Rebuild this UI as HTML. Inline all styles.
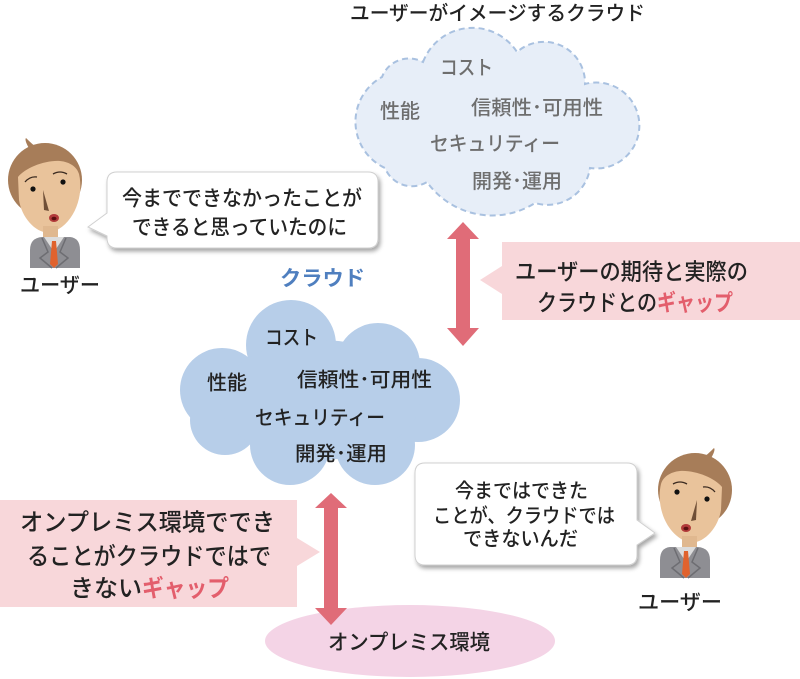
<!DOCTYPE html>
<html><head><meta charset="utf-8"><style>
html,body{margin:0;padding:0;background:#fff;}
svg{display:block;}
text{font-family:"Liberation Sans","Noto Sans CJK JP",sans-serif;font-weight:500;}
text.b{font-weight:bold;}
</style></head><body>
<svg width="800" height="679" viewBox="0 0 800 679" xmlns="http://www.w3.org/2000/svg">
<defs>
<filter id="sh" x="-10%" y="-10%" width="125%" height="135%">
<feDropShadow dx="2" dy="3" stdDeviation="2" flood-color="#000" flood-opacity="0.35"/>
</filter>
<g id="person">
  <ellipse cx="45" cy="180" rx="37" ry="37" fill="#a77d59"/>
  <path d="M30,150 Q24,140 26,138 Q32,144 36,147 Z" fill="#a77d59"/>
  <path d="M18,177 C25,168 45,160 60,161 C70,162 77,167 79,174 C84,195 75,222 55,231 C40,238 22,220 19,200 Z" fill="#e9c39b"/>
  <path d="M25,182 Q30,176 37,177" stroke="#3a2a20" stroke-width="1.3" fill="none"/>
  <path d="M53,174 Q60,170 67,174" stroke="#3a2a20" stroke-width="1.3" fill="none"/>
  <circle cx="33" cy="189" r="2.6" fill="#111"/>
  <circle cx="63" cy="182" r="2.6" fill="#111"/>
  <path d="M43,190 L49,211 L44,210 Z" fill="#6f4f37"/>
  <ellipse cx="54" cy="218" rx="5" ry="4" fill="#b23a3a"/>
  <ellipse cx="54" cy="218.5" rx="2.5" ry="1.8" fill="#5a1010"/>
  <rect x="43" y="226" width="15" height="14" fill="#e0b88f"/>
  <path d="M30,250 Q30,238 42,237 L70,237 Q80,238 80,250 L80,268 L30,268 Z" fill="#8e8e93"/>
  <path d="M44,237 L54,252 L64,237 Z" fill="#dcdcdc"/>
  <path d="M42,238 L48,252 L40,258 L52,268" stroke="#6d6d72" stroke-width="1.5" fill="none"/>
  <path d="M66,238 L60,252 L68,258 L56,268" stroke="#6d6d72" stroke-width="1.5" fill="none"/>
  <path d="M52,241 L56,241 L58,264 L54,268 L50,264 Z" fill="#e0622d"/>
</g>
</defs>

<!-- title -->
<text x="350" y="20" font-size="20" fill="#222" textLength="295" lengthAdjust="spacingAndGlyphs">ユーザーがイメージするクラウド</text>

<!-- top dashed cloud -->
<path d="M423,62 A53,53 0 0 1 517,52 A41,41 0 0 1 585,84 A43,43 0 1 1 590,168 A43,43 0 0 1 535,203 A80,80 0 0 1 427,182 A29,29 0 0 1 385,168 A51,51 0 0 1 382,77 A29,29 0 0 1 423,62 Z" fill="#e7eef8" stroke="#a9c1e0" stroke-width="2" stroke-dasharray="6 4"/>
<g font-size="20" fill="#6e6e6e">
<text x="440" y="74.5" textLength="53" lengthAdjust="spacingAndGlyphs">コスト</text>
<text x="380" y="118" textLength="40" lengthAdjust="spacingAndGlyphs">性能</text>
<text x="471" y="114.5" textLength="132" lengthAdjust="spacingAndGlyphs">信頼性･可用性</text>
<text x="430" y="150.5" textLength="130" lengthAdjust="spacingAndGlyphs">セキュリティー</text>
<text x="472" y="188" textLength="90" lengthAdjust="spacingAndGlyphs">開発･運用</text>
</g>

<!-- left person and bubble -->
<use href="#person"/>
<text x="20" y="292.5" font-size="21" fill="#222" textLength="80" lengthAdjust="spacingAndGlyphs">ユーザー</text>
<g filter="url(#sh)">
<path d="M117,172 L368,172 Q378,172 378,182 L378,238 Q378,248 368,248 L117,248 Q107,248 107,238 L107,236 L88,227 L107,213 L107,182 Q107,172 117,172 Z" fill="#fff" stroke="#d0d0d0" stroke-width="1"/>
</g>
<text x="122" y="205.5" font-size="21" fill="#222" textLength="240" lengthAdjust="spacingAndGlyphs">今までできなかったことが</text>
<text x="132" y="234.5" font-size="21" fill="#222" textLength="215" lengthAdjust="spacingAndGlyphs">できると思っていたのに</text>

<!-- top arrow -->
<polygon points="463,222 479,239 470,239 470,328 479,328 463,346 447,328 456,328 456,239 447,239" fill="#e06c78"/>

<!-- right pink box -->
<polygon points="502,242 800,242 800,320 502,320 502,294 480,280 502,266" fill="#f8d7da"/>
<text x="515" y="279.5" font-size="23" fill="#222" textLength="233" lengthAdjust="spacingAndGlyphs">ユーザーの期待と実際の</text>
<text x="537" y="310.5" font-size="23" fill="#222" textLength="120" lengthAdjust="spacingAndGlyphs">クラウドとの</text>
<text class="b" x="657" y="310.5" font-size="23" fill="#e35e6c" textLength="76" lengthAdjust="spacingAndGlyphs">ギャップ</text>

<!-- main cloud -->
<text class="b" x="280" y="285.5" font-size="21" fill="#4f7fbf" textLength="85" lengthAdjust="spacingAndGlyphs">クラウド</text>
<g fill="#b7cee9">
<circle cx="291" cy="345" r="45"/>
<circle cx="378" cy="365" r="42"/>
<circle cx="418" cy="400" r="42"/>
<circle cx="375" cy="445" r="40"/>
<circle cx="290" cy="445" r="40"/>
<circle cx="225" cy="420" r="35"/>
<circle cx="222" cy="390" r="42"/>
<ellipse cx="320" cy="400" rx="100" ry="60"/>
</g>
<g font-size="20" fill="#222">
<text x="265" y="344.5" textLength="53" lengthAdjust="spacingAndGlyphs">コスト</text>
<text x="207" y="389.5" textLength="40" lengthAdjust="spacingAndGlyphs">性能</text>
<text x="297" y="386.5" textLength="135" lengthAdjust="spacingAndGlyphs">信頼性･可用性</text>
<text x="255" y="424.5" textLength="130" lengthAdjust="spacingAndGlyphs">セキュリティー</text>
<text x="295" y="460.5" textLength="92" lengthAdjust="spacingAndGlyphs">開発･運用</text>
</g>

<!-- bottom ellipse -->
<ellipse cx="410" cy="641" rx="145" ry="36" fill="#f4d4e6"/>
<text x="328" y="649.5" font-size="21" fill="#222" textLength="162" lengthAdjust="spacingAndGlyphs">オンプレミス環境</text>

<!-- bottom arrow -->
<polygon points="331,493 347,508 338,508 338,608 347,608 331,625 315,608 324,608 324,508 315,508" fill="#e06c78"/>

<!-- left pink box -->
<polygon points="0,500 297,500 297,538 320,552 297,566 297,607 0,607" fill="#f8d7da"/>
<text x="20" y="530.5" font-size="24" fill="#222" textLength="255" lengthAdjust="spacingAndGlyphs">オンプレミス環境ででき</text>
<text x="27" y="564.5" font-size="24" fill="#222" textLength="244" lengthAdjust="spacingAndGlyphs">ることがクラウドではで</text>
<text x="70" y="596.5" font-size="24" fill="#222" textLength="72" lengthAdjust="spacingAndGlyphs">きない</text>
<text class="b" x="142" y="596.5" font-size="24" fill="#e35e6c" textLength="87" lengthAdjust="spacingAndGlyphs">ギャップ</text>

<!-- right bubble -->
<g filter="url(#sh)">
<path d="M425,463 L627,463 Q637,463 637,473 L637,520 L655,533 L637,545 L637,555 Q637,565 627,565 L425,565 Q415,565 415,555 L415,473 Q415,463 425,463 Z" fill="#fff" stroke="#d0d0d0" stroke-width="1"/>
</g>
<text x="455" y="497.5" font-size="20" fill="#222" textLength="133" lengthAdjust="spacingAndGlyphs">今まではできた</text>
<text x="433" y="522.5" font-size="20" fill="#222" textLength="182" lengthAdjust="spacingAndGlyphs">ことが、クラウドでは</text>
<text x="463" y="545.5" font-size="20" fill="#222" textLength="115" lengthAdjust="spacingAndGlyphs">できないんだ</text>

<!-- right person -->
<use href="#person" transform="translate(740,310) scale(-1,1)"/>
<text x="638" y="609.5" font-size="21" fill="#222" textLength="84" lengthAdjust="spacingAndGlyphs">ユーザー</text>
</svg>
</body></html>
